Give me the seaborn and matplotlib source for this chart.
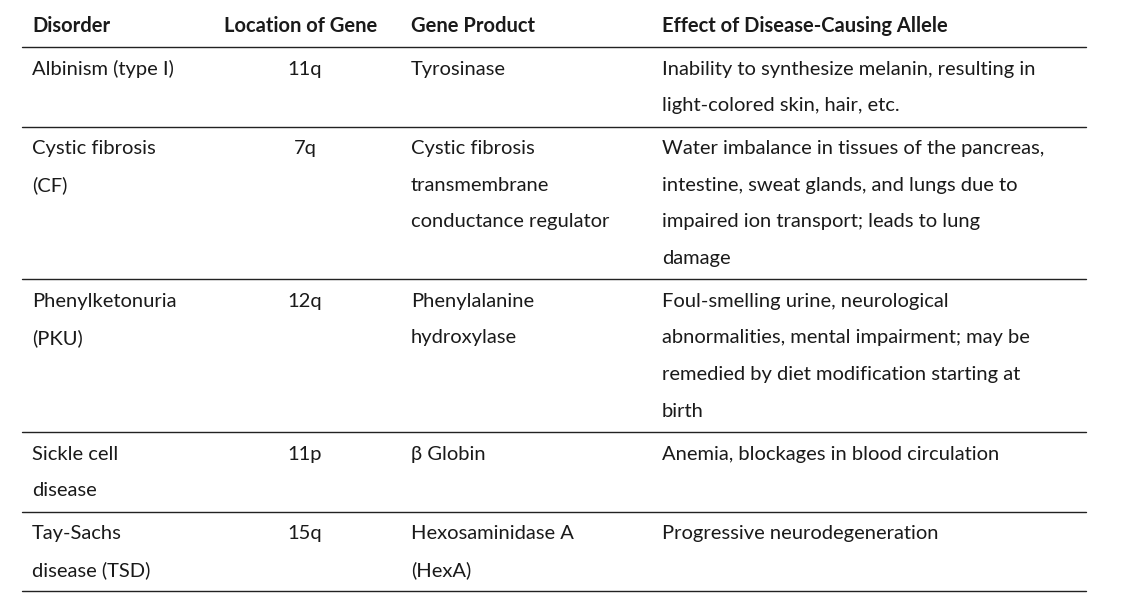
import matplotlib
matplotlib.use("Agg")
import matplotlib.pyplot as plt
import seaborn as sns

headers = ["Disorder", "Location of Gene", "Gene Product", "Effect of Disease-Causing Allele"]
disorders = [["Albinism (type I)"], ["Cystic fibrosis", "(CF)"], ["Phenylketonuria", "(PKU)"],
             ["Sickle cell", "disease"], ["Tay-Sachs", "disease (TSD)"]]
locations = ["11q", "7q", "12q", "11p", "15q"]
products = [["Tyrosinase"], ["Cystic fibrosis", "transmembrane", "conductance regulator"],
            ["Phenylalanine", "hydroxylase"], ["β Globin"], ["Hexosaminidase A", "(HexA)"]]
effects = [["Inability to synthesize melanin, resulting in", "light-colored skin, hair, etc."],
           ["Water imbalance in tissues of the pancreas,", "intestine, sweat glands, and lungs due to",
            "impaired ion transport; leads to lung", "damage"],
           ["Foul-smelling urine, neurological", "abnormalities, mental impairment; may be",
            "remedied by diet modification starting at", "birth"],
           ["Anemia, blockages in blood circulation"],
           ["Progressive neurodegeneration"]]

sns.set_theme(style="white", rc={"font.family": "Lato"})
fig = plt.figure(figsize=(11.4, 6.14), dpi=100)
ax = fig.add_axes([0, 0, 1, 1])
ax.set_xlim(0, 1140)
ax.set_ylim(614, 0)
ax.axis("off")

color = "#1a1a1a"
fs = 14.5
col_x = [32, 301, 411, 662]
line_h = 36.6
hdr = dict(fontsize=14.5, fontweight="bold", va="center", color=color)
ax.text(col_x[0], 26, headers[0], **hdr)
ax.text(col_x[1], 26, headers[1], ha="center", **hdr)
ax.text(col_x[2], 26, headers[2], **hdr)
ax.text(col_x[3], 26, headers[3], **hdr)
ax.plot([22, 1086], [47, 47], color="#222", lw=1)

y0 = 47
for i in range(len(disorders)):
    n = max(len(disorders[i]), len(products[i]), len(effects[i]))
    top = y0 + 22
    for j, t in enumerate(disorders[i]):
        ax.text(col_x[0], top + j * line_h, t, fontsize=fs, va="center", color=color)
    ax.text(col_x[1] + 4, top, locations[i], fontsize=fs, va="center", ha="center", color=color)
    for j, t in enumerate(products[i]):
        ax.text(col_x[2], top + j * line_h, t, fontsize=fs, va="center", color=color)
    for j, t in enumerate(effects[i]):
        ax.text(col_x[3], top + j * line_h, t, fontsize=fs, va="center", color=color)
    y0 = top + (n - 1) * line_h + 21
    ax.plot([22, 1086], [y0, y0], color="#222", lw=1)

fig.savefig("out.png", dpi=100)
